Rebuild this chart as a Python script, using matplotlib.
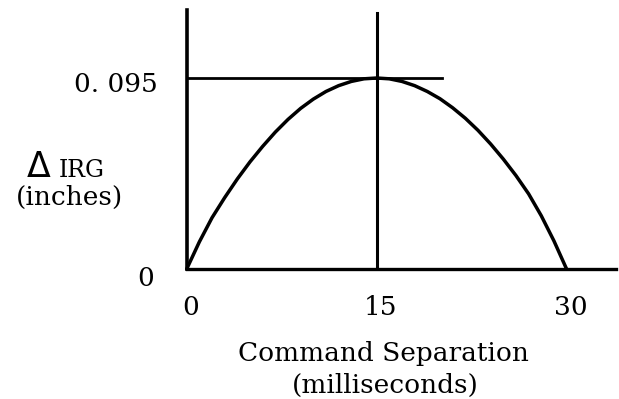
import matplotlib.pyplot as plt

# Change in IRG vs command separation
sep_ms = [0, 1, 2, 3, 4, 5, 6, 7, 8, 9, 10, 11, 12, 13, 14, 15,
          16, 17, 18, 19, 20, 21, 22, 23, 24, 25, 26, 27, 28, 29, 30]
delta_irg = [0, 0.0135, 0.0255, 0.0355, 0.0448, 0.0533, 0.0610, 0.0681, 0.0744, 0.0799, 0.0845,
             0.0883, 0.0912, 0.0933, 0.0946, 0.0950,
             0.0946, 0.0933, 0.0912, 0.0883, 0.0847, 0.0802, 0.0750, 0.0690, 0.0622, 0.0547,
             0.0465, 0.0374, 0.0265, 0.0140, 0]

peak_x = 15
peak_y = 0.095
x_ticks = [0, 15, 30]
x_tick_labels = ['0', '15', '30']

plt.rcParams['font.family'] = ['DejaVu Serif']

fig = plt.figure(figsize=(6.19, 3.99), dpi=100)
ax = fig.add_axes([0.3016, 0.3258, 0.6935, 0.649])
ax.set_xlim(0, 33.9)
ax.set_ylim(0, 0.1288)

# axes
for side in ['top', 'right']:
    ax.spines[side].set_visible(False)
ax.spines['left'].set_linewidth(2.6)
ax.spines['bottom'].set_linewidth(2.4)
ax.set_xticks([])
ax.set_yticks([])
ax.patch.set_alpha(0)

# curve and guide lines
ax.plot(sep_ms, delta_irg, color='black', lw=2.5, solid_capstyle='round', clip_on=False)
ax.plot([peak_x, peak_x], [0, 0.1274], color='black', lw=2.2)
ax.plot([0, 20.2], [peak_y, peak_y], color='black', lw=2.0)

fs = 19
for xv, lab in zip(x_ticks, x_tick_labels):
    ax.text(xv + 0.3, -0.019, lab, ha='center', va='center', fontsize=fs)
ax.text(-2.3, peak_y - 0.003, '0. 095', ha='right', va='center', fontsize=fs)
ax.text(-2.6, -0.0045, '0', ha='right', va='center', fontsize=fs)

# y label: outlined delta, then IRG on the same baseline
base = 1 - 177 / 399
fig.text(39 / 619, base, 'Δ', ha='center', va='baseline', fontsize=25,
         family='DejaVu Sans')
fig.text(59 / 619, base, 'IRG', ha='left', va='baseline', fontsize=17)
fig.text(69 / 619, 1 - 197 / 399, '(inches)', ha='center', va='center', fontsize=fs)
fig.text(383 / 619, 1 - 354 / 399, 'Command Separation', ha='center', va='center', fontsize=fs)
fig.text(385 / 619, 1 - 385 / 399, '(milliseconds)', ha='center', va='center', fontsize=fs)

fig.savefig('out.png', dpi=100)
